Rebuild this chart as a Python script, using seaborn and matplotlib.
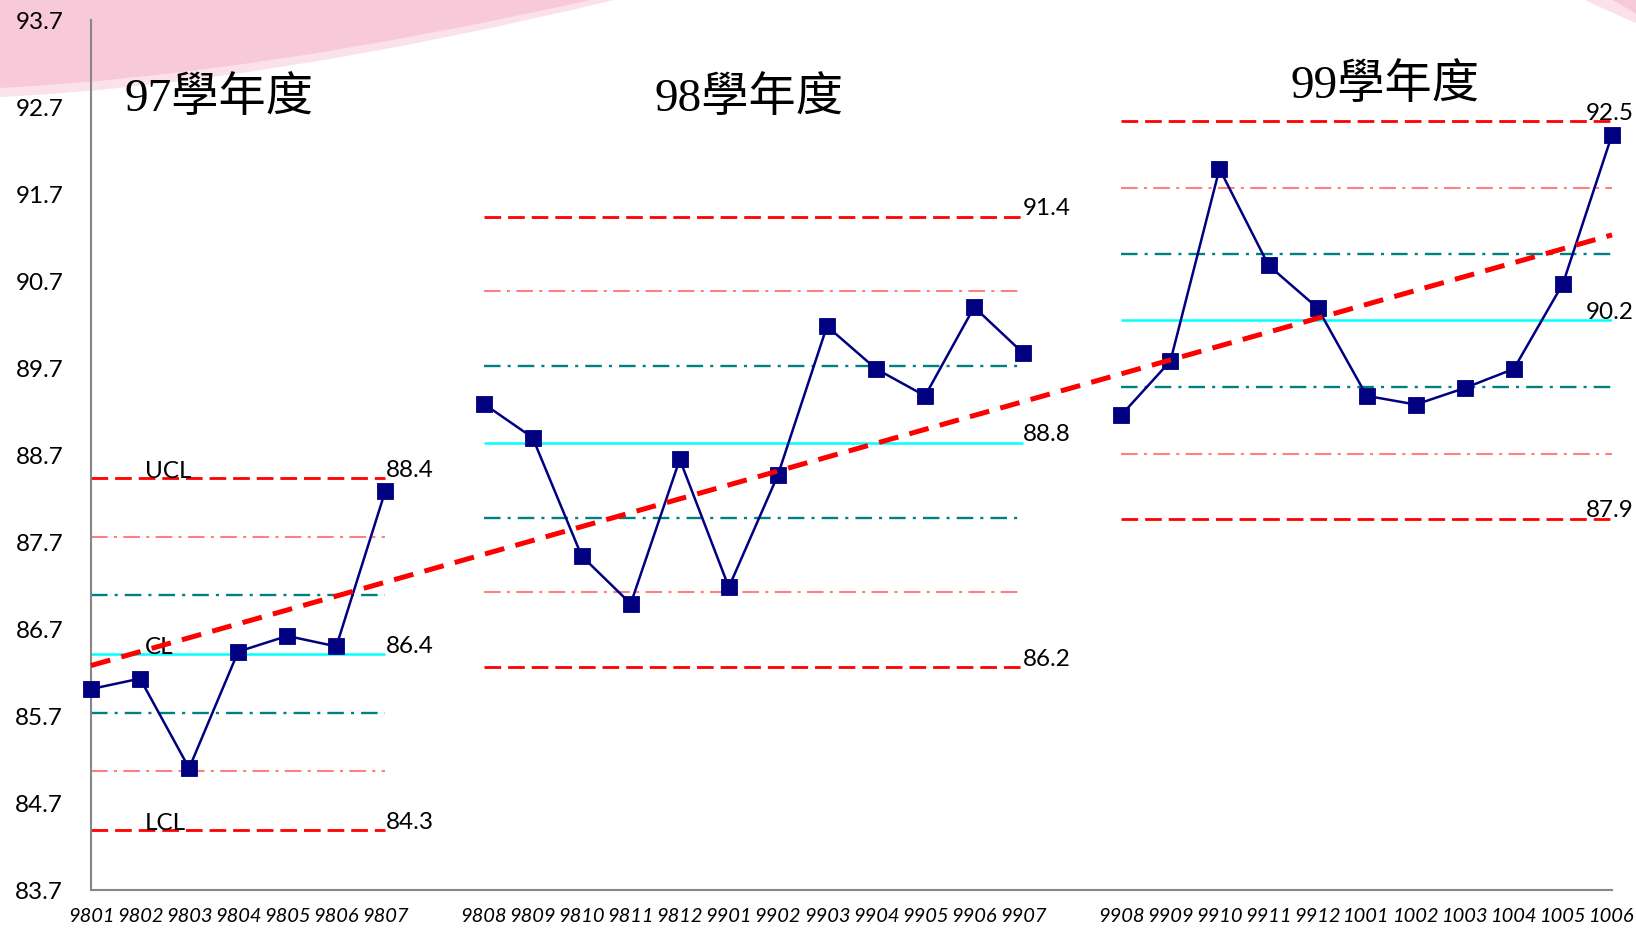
import numpy as np
import pandas as pd
import matplotlib
matplotlib.use("Agg")
import matplotlib.pyplot as plt
from matplotlib.path import Path
from matplotlib.patches import PathPatch
import seaborn as sns

# ---------------- data ----------------
months_97 = ['9801', '9802', '9803', '9804', '9805', '9806', '9807']
values_97 = [86.01, 86.13, 85.10, 86.44, 86.62, 86.50, 88.29]
months_98 = ['9808', '9809', '9810', '9811', '9812', '9901', '9902',
             '9903', '9904', '9905', '9906', '9907']
values_98 = [89.29, 88.90, 87.54, 86.99, 88.65, 87.18, 88.47,
             90.18, 89.69, 89.38, 90.40, 89.87]
months_99 = ['9908', '9909', '9910', '9911', '9912', '1001', '1002',
             '1003', '1004', '1005', '1006']
values_99 = [89.16, 89.78, 91.99, 90.88, 90.39, 89.38, 89.28,
             89.47, 89.69, 90.67, 92.38]

group_titles = ['97學年度', '98學年度', '99學年度']
ucl = [88.43, 91.44, 92.54]
upper_zone_b = [87.76, 90.58, 91.77]
upper_zone_a = [87.09, 89.72, 91.01]
cl = [86.41, 88.84, 90.25]
lower_zone_a = [85.74, 87.98, 89.48]
lower_zone_b = [85.07, 87.12, 88.71]
lcl = [84.39, 86.26, 87.97]
ucl_text = ['88.4', '91.4', '92.5']
cl_text = ['86.4', '88.8', '90.2']
lcl_text = ['84.3', '86.2', '87.9']
limit_names = ['UCL', 'CL', 'LCL']
trend_ends = [86.28, 91.23]
y_ticks = [83.7, 84.7, 85.7, 86.7, 87.7, 88.7, 89.7, 90.7, 91.7, 92.7, 93.7]

# ---------------- build category axis ----------------
groups_m = [months_97, months_98, months_99]
groups_v = [values_97, values_98, values_99]
categories = months_97 + [''] + months_98 + [''] + months_99
positions = np.arange(len(categories))
starts = []
s = 0
for m in groups_m:
    starts.append(s)
    s += len(m) + 1
frames = []
for gi, (m, v) in enumerate(zip(groups_m, groups_v)):
    frames.append(pd.DataFrame({'pos': np.arange(starts[gi], starts[gi] + len(m)),
                                'month': m, 'value': v, 'group': gi}))
df = pd.concat(frames, ignore_index=True)

# ---------------- style ----------------
sns.set_style('white')
plt.rcParams['font.family'] = ['Lato', 'DejaVu Sans']

W, H = 1636, 930
fig = plt.figure(figsize=(W / 100, H / 100), dpi=100)
fig.patch.set_facecolor('white')

def fp(x, y):
    return (x / W, 1 - y / H)

# decorative pink swoosh (background)
def swoosh(p0, c, p2, extra, color):
    verts = [fp(*p0), fp(*c), fp(*p2)] + [fp(*e) for e in extra] + [fp(*p0)]
    codes = [Path.MOVETO, Path.CURVE3, Path.CURVE3] + [Path.LINETO] * len(extra) + [Path.CLOSEPOLY]
    fig.add_artist(PathPatch(Path(verts, codes), facecolor=color, edgecolor='none',
                             transform=fig.transFigure, zorder=0))

swoosh((0, 97), (265, 84), (614, 0), [(0, 0)], '#FBE1EA')
swoosh((0, 88), (255, 75), (590, 0), [(0, 0)], '#F8C9D9')
swoosh((1585, 0), (1610, 12), (1636, 23), [(1636, 0)], '#FBE1EA')
swoosh((1612, 0), (1624, 6), (1636, 14), [(1636, 0)], '#F8C9D9')

ax = fig.add_axes([91 / W, 40 / H, (1612 - 91) / W, 870 / H])
ax.set_facecolor('none')
ax.set_zorder(1)

LABEL_FS = 17.5

# control lines
for gi in range(3):
    x0 = starts[gi]
    x1 = starts[gi] + len(groups_m[gi]) - 1
    ax.hlines(upper_zone_b[gi], x0, x1, colors='#FF8080', lw=1.5,
              linestyles=[(0, (8, 3, 1.5, 3))], zorder=2)
    ax.hlines(lower_zone_b[gi], x0, x1, colors='#FF8080', lw=1.5,
              linestyles=[(0, (8, 3, 1.5, 3))], zorder=2)
    ax.hlines(upper_zone_a[gi], x0, x1, colors='#008080', lw=1.7,
              linestyles=[(0, (7, 3, 1.3, 3))], zorder=2)
    ax.hlines(lower_zone_a[gi], x0, x1, colors='#008080', lw=1.7,
              linestyles=[(0, (7, 3, 1.3, 3))], zorder=2)
    ax.hlines(cl[gi], x0, x1, colors='#00FFFF', lw=1.8, zorder=2)
    ax.hlines(ucl[gi], x0, x1, colors='#FF0000', lw=2.0,
              linestyles=[(0, (6, 2.5))], zorder=2)
    ax.hlines(lcl[gi], x0, x1, colors='#FF0000', lw=2.0,
              linestyles=[(0, (6, 2.5))], zorder=2)
    for val, txt in zip([ucl[gi], cl[gi], lcl[gi]], [ucl_text[gi], cl_text[gi], lcl_text[gi]]):
        if gi < 2:
            ax.annotate(txt, xy=(x1, val), xytext=(0, 1), textcoords='offset points',
                        ha='left', va='baseline', fontsize=LABEL_FS, color='black',
                        annotation_clip=False, zorder=5)
        else:
            ax.annotate(txt, xy=(x1, val), xytext=(15.5, 1), textcoords='offset points',
                        ha='right', va='baseline', fontsize=LABEL_FS, color='black',
                        annotation_clip=False, zorder=5)

for name, val in zip(limit_names, [ucl[0], cl[0], lcl[0]]):
    ax.text(1.1, val, name, ha='left', va='baseline', fontsize=LABEL_FS,
            color='black', zorder=5)

# data lines (one per school year)
for gi in range(3):
    sns.lineplot(data=df[df['group'] == gi], x='pos', y='value', ax=ax,
                 color='#000080', lw=1.8, marker='s', markersize=11,
                 markeredgewidth=0.6, markeredgecolor='#000080', zorder=4,
                 legend=False, clip_on=False)

# trend line
sns.lineplot(x=[positions[0], positions[-1]], y=trend_ends, ax=ax, color='#FF0000',
             lw=3.6, linestyle=(0, (4, 2.3)), zorder=6, legend=False, clip_on=False)

# group titles
title_pos = [(2.61, 92.79), (13.41, 92.79), (26.38, 92.94)]
for t, (tx, ty) in zip(group_titles, title_pos):
    ax.text(tx, ty, t, ha='center', va='center', fontsize=34, color='black',
            family=['Liberation Serif', 'Noto Sans CJK TC'], zorder=5)

# axes
ax.set_xlim(positions[0], positions[-1])
ax.set_ylim(y_ticks[0], y_ticks[-1])
ax.set_yticks(y_ticks)
ax.set_yticklabels([f'{v:.1f}' for v in y_ticks])
ax.set_xticks(positions)
ax.set_xticklabels(categories)
ax.set_xlabel('')
ax.set_ylabel('')
for side in ['top', 'right']:
    ax.spines[side].set_visible(False)
for side in ['left', 'bottom']:
    ax.spines[side].set_color('#868686')
    ax.spines[side].set_linewidth(1.5)
ax.tick_params(axis='both', direction='out', length=5, width=1.5, color='#868686')
ax.tick_params(axis='y', labelsize=17.5, pad=15, labelcolor='black')
ax.tick_params(axis='x', labelsize=14.5, pad=8, labelcolor='black')
for lab in ax.get_xticklabels():
    lab.set_fontstyle('italic')
ax.grid(False)

fig.savefig('out.png', dpi=100, facecolor='white')
